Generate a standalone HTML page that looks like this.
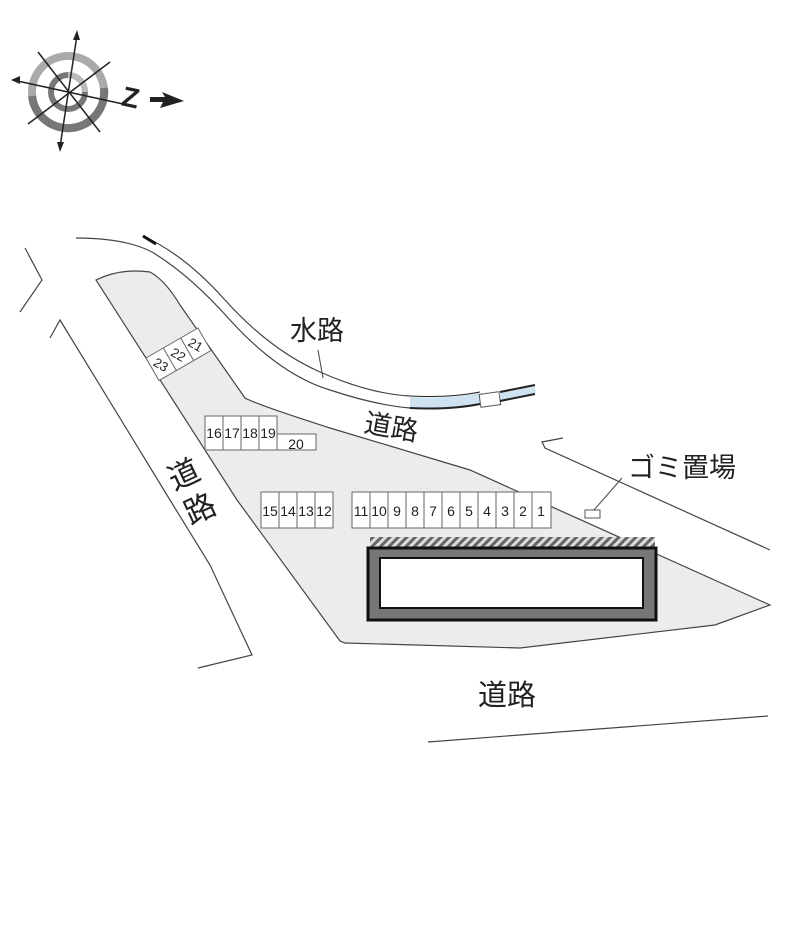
<!DOCTYPE html>
<html><head><meta charset="utf-8"><style>
html,body{margin:0;padding:0;background:#fff;width:800px;height:940px;overflow:hidden}
svg{display:block}
text{font-family:"Liberation Sans","Noto Sans CJK JP",sans-serif;fill:#222}
</style></head><body>
<svg width="800" height="940" viewBox="0 0 800 940">
<defs>
<pattern id="h" width="6" height="6" patternUnits="userSpaceOnUse" patternTransform="rotate(45)">
<rect width="6" height="6" fill="#ddd"/><rect width="3" height="6" fill="#666"/></pattern>
</defs>
<!-- compass -->
<g transform="translate(68,92)">
<circle r="36" fill="none" stroke="#aaa" stroke-width="8"/>
<path d="M-36,4 A36,36 0 0 0 36,-4" fill="none" stroke="#777" stroke-width="8"/>
<circle r="17" fill="none" stroke="#777" stroke-width="6"/>
<path d="M0,-17 A17,17 0 0 1 17,0" fill="none" stroke="#bbb" stroke-width="6"/>
<g stroke="#222" stroke-width="1.5">
<line x1="-8" y1="55" x2="9" y2="-57"/><line x1="-55" y1="-12" x2="55" y2="12"/>
<line x1="-30" y1="-40" x2="32" y2="40"/><line x1="-40" y1="32" x2="42" y2="-30"/>
</g>
<polygon points="9,-62 5,-52 12,-52" fill="#222"/>
<polygon points="-8,60 -11,50 -4,50" fill="#222"/>
<polygon points="-57,-12 -48,-16 -48,-8" fill="#222"/>
</g>
<text x="122" y="108" font-size="28" font-weight="bold" transform="rotate(12 135 98)">Z</text>
<polygon points="150,97 165,97 162,92 184,101 160,108 163,102 150,102" fill="#222"/>

<!-- lot -->
<path d="M96,280 Q120,268 150,272 Q165,280 180,305 L245,398 Q258,405 330,428 L470,470 L770,605 L715,625 L520,648 L345,643 L340,641 L237,500 Z" fill="#ececec" stroke="#444" stroke-width="1.2"/>
<!-- left road -->
<polyline points="25,248 42,280 20,312" fill="none" stroke="#444" stroke-width="1.2"/>
<polyline points="50,338 60,320 170,500 210,565 252,655 198,668" fill="none" stroke="#444" stroke-width="1.2"/>
<!-- water channel -->
<path d="M76,238 Q125,238 152,252 Q190,275 230,320 Q280,375 330,390 Q375,405 410,408" fill="none" stroke="#444" stroke-width="1.2"/>
<path d="M143,236 Q185,255 225,300 Q270,350 320,372 Q370,394 410,396" fill="none" stroke="#444" stroke-width="1.2"/>
<path d="M143,236 L156,244" stroke="#111" stroke-width="3"/>
<path d="M410,402 Q450,404 480,398" stroke="#cfe2f0" stroke-width="10" fill="none"/>
<path d="M410,408 Q450,410 480,404" stroke="#222" stroke-width="2" fill="none"/>
<path d="M410,396 Q450,398 480,392" stroke="#222" stroke-width="1" fill="none"/>
<rect x="480" y="393" width="20" height="13" fill="#fff" stroke="#555" transform="rotate(-8 490 400)"/>
<path d="M500,396 L535,389" stroke="#cfe2f0" stroke-width="9"/>
<path d="M500,401 L535,394 M500,392 L535,385" stroke="#222" stroke-width="2"/>
<line x1="318" y1="350" x2="323" y2="378" stroke="#444"/>
<!-- right road -->
<polyline points="563,438 542,442 545,448 770,550" fill="none" stroke="#444" stroke-width="1.2"/>
<!-- bottom road -->
<line x1="428" y1="742" x2="768" y2="716" stroke="#444" stroke-width="1.2"/>
<!-- building -->
<rect x="370" y="537" width="285" height="10" fill="url(#h)"/>
<rect x="368" y="548" width="288" height="72" fill="#777" stroke="#111" stroke-width="3"/>
<rect x="380" y="558" width="263" height="50" fill="#fff" stroke="#111" stroke-width="2"/>
<!-- spaces -->
<g fill="#fff" stroke="#666" stroke-width="1">
<rect x="352" y="492" width="199" height="36"/>
<rect x="261" y="492" width="72" height="36"/>
<rect x="205" y="416" width="72" height="34"/>
<rect x="277" y="434" width="39" height="16"/>
</g>
<g stroke="#666">
<line x1="370" y1="492" x2="370" y2="528"/><line x1="388" y1="492" x2="388" y2="528"/><line x1="406" y1="492" x2="406" y2="528"/><line x1="424" y1="492" x2="424" y2="528"/><line x1="442" y1="492" x2="442" y2="528"/><line x1="460" y1="492" x2="460" y2="528"/><line x1="478" y1="492" x2="478" y2="528"/><line x1="496" y1="492" x2="496" y2="528"/><line x1="514" y1="492" x2="514" y2="528"/><line x1="532" y1="492" x2="532" y2="528"/>
<line x1="279" y1="492" x2="279" y2="528"/><line x1="297" y1="492" x2="297" y2="528"/><line x1="315" y1="492" x2="315" y2="528"/>
<line x1="223" y1="416" x2="223" y2="450"/><line x1="241" y1="416" x2="241" y2="450"/><line x1="259" y1="416" x2="259" y2="450"/>
</g>
<g font-size="14" text-anchor="middle">
<text x="361" y="516">11</text><text x="379" y="516">10</text><text x="397" y="516">9</text><text x="415" y="516">8</text><text x="433" y="516">7</text><text x="451" y="516">6</text><text x="469" y="516">5</text><text x="487" y="516">4</text><text x="505" y="516">3</text><text x="523" y="516">2</text><text x="541" y="516">1</text>
<text x="270" y="516">15</text><text x="288" y="516">14</text><text x="306" y="516">13</text><text x="324" y="516">12</text>
<text x="214" y="438">16</text><text x="232" y="438">17</text><text x="250" y="438">18</text><text x="268" y="438">19</text><text x="296" y="449">20</text>
</g>
<g transform="translate(146,358) rotate(-30)">
<rect x="0" y="0" width="60" height="26" fill="#fff" stroke="#666"/>
<line x1="20" y1="0" x2="20" y2="26" stroke="#666"/><line x1="40" y1="0" x2="40" y2="26" stroke="#666"/>
<text x="10" y="18" font-size="13" text-anchor="middle" transform="rotate(60 10 13)">23</text>
<text x="30" y="18" font-size="13" text-anchor="middle" transform="rotate(60 30 13)">22</text>
<text x="50" y="18" font-size="13" text-anchor="middle" transform="rotate(60 50 13)">21</text>
</g>
<!-- garbage -->
<rect x="585" y="510" width="15" height="8" fill="#fff" stroke="#555"/>
<line x1="594" y1="510" x2="622" y2="478" stroke="#444"/>
<!-- labels -->
<text x="290" y="340" font-size="27">水路</text>
<text x="364" y="438" font-size="27" transform="rotate(10 400 430)">道路</text>
<text x="478" y="705" font-size="29">道路</text>
<text x="628" y="477" font-size="27">ゴミ置場</text>
<g font-size="31" transform="rotate(-25 195 490)">
<text x="176" y="482">道</text><text x="176" y="520">路</text></g>
</svg>
</body></html>
